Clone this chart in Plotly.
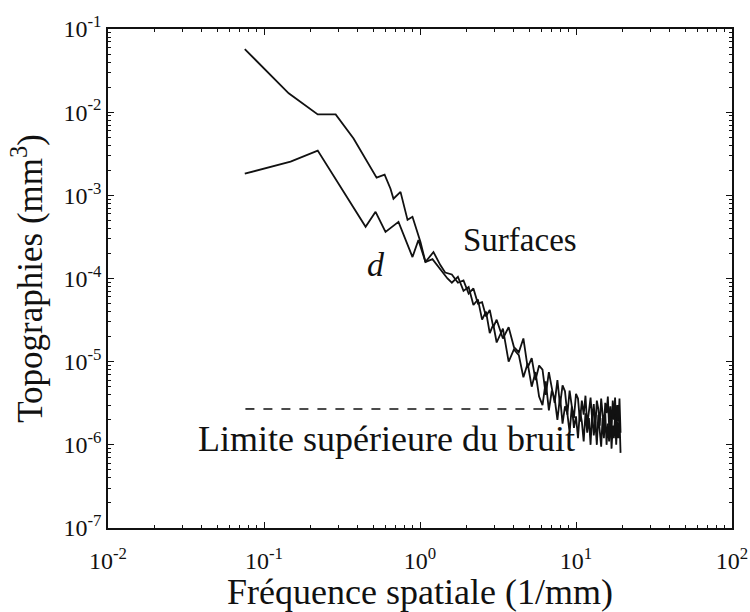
import plotly.graph_objects as go

# Curve "Surfaces" (upper at low frequency)
surf_x = [0.0753, 0.144, 0.221, 0.288, 0.375, 0.527, 0.593, 0.647, 0.676, 0.750, 0.832, 0.895, 1.007, 1.084, 1.22, 1.35, 1.45,
          1.6, 1.75, 1.9, 2.05, 2.2, 2.35, 2.5, 2.65, 2.8, 2.95, 3.1, 3.4, 3.7, 4.0, 4.3, 4.6, 4.9, 5.2, 5.5, 5.8,
          6.1, 6.4, 6.7, 7.0, 7.3, 7.6, 7.9, 8.2, 8.5, 8.8, 9.1, 9.4, 9.7, 10.0, 10.3, 10.6, 10.9, 11.2, 11.5, 11.8,
          12.1, 12.4, 12.7, 13.0, 13.3, 13.6, 13.9, 14.2, 14.5, 14.8, 15.1, 15.4, 15.7, 16.0, 16.3, 16.6, 16.9, 17.2,
          17.5, 17.8, 18.1, 18.4, 18.7, 19.0, 19.3]
surf_y = [0.0573, 0.01687, 0.0094, 0.0094, 0.00483, 0.00163, 0.00177, 0.00120, 0.00091, 0.00110, 0.000507, 0.000552,
          0.000275, 0.000158, 0.000208, 0.000145, 0.000118,
          1.12e-4, 8.9e-5, 9.5e-5, 6.6e-5, 7.6e-5, 5.0e-5, 5.2e-5, 3.5e-5, 4.2e-5, 2.6e-5,
          3.2e-5, 1.9e-5, 2.6e-5, 1.5e-5, 1.3e-5, 1.9e-5, 8.5e-6, 1.1e-5, 6.0e-6, 9.0e-6,
          8.0e-6, 4.0e-6, 7.5e-6, 4.8e-6, 3.2e-6, 6.0e-6, 3.0e-6, 5.2e-6, 4.4e-6, 2.3e-6,
          4.5e-6, 2.9e-6, 2.1e-6, 4.1e-6, 3.6e-6, 1.9e-6, 3.4e-6, 2.3e-6, 3.9e-6, 1.7e-6,
          2.6e-6, 3.7e-6, 2.0e-6, 3.1e-6, 1.6e-6, 3.4e-6, 2.7e-6, 1.7e-6, 3.6e-6, 2.2e-6,
          1.6e-6, 3.2e-6, 2.4e-6, 3.8e-6, 1.7e-6, 2.9e-6, 1.5e-6, 3.4e-6, 2.0e-6, 3.7e-6,
          1.6e-6, 3.0e-6, 1.9e-6, 3.6e-6, 1.4e-6]

# Curve "d" (lower at low frequency)
d_x = [0.0753, 0.148, 0.221, 0.319, 0.448, 0.519, 0.601, 0.728, 0.895, 0.977, 1.084, 1.202, 1.39, 1.5,
       1.6, 1.75, 1.9, 2.05, 2.2, 2.35, 2.5, 2.65, 2.8, 2.95, 3.1, 3.4, 3.7, 4.0, 4.3, 4.6, 4.9, 5.2, 5.5, 5.8,
       6.1, 6.4, 6.7, 7.0, 7.3, 7.6, 7.9, 8.2, 8.5, 8.8, 9.1, 9.4, 9.7, 10.0, 10.3, 10.6, 10.9, 11.2, 11.5, 11.8,
       12.1, 12.4, 12.7, 13.0, 13.3, 13.6, 13.9, 14.2, 14.5, 14.8, 15.1, 15.4, 15.7, 16.0, 16.3, 16.6, 16.9, 17.2,
       17.5, 17.8, 18.1, 18.4, 18.7, 19.0, 19.3]
d_y = [0.00182, 0.00255, 0.00345, 0.00117, 0.000418, 0.000634, 0.000363, 0.000480, 0.000181, 0.000291, 0.000158,
       0.000171, 0.000119, 0.000100,
       8.9e-5, 1.05e-4, 7.1e-5, 7.9e-5, 4.8e-5, 5.6e-5, 3.2e-5, 4.0e-5, 2.2e-5, 2.8e-5,
       1.7e-5, 2.5e-5, 1.0e-5, 1.4e-5, 1.2e-5, 6.5e-6, 9.5e-6, 5.0e-6, 7.5e-6, 3.8e-6,
       3.0e-6, 5.8e-6, 2.6e-6, 4.5e-6, 3.6e-6, 2.0e-6, 3.8e-6, 1.8e-6, 2.9e-6, 2.4e-6,
       1.4e-6, 2.9e-6, 1.6e-6, 2.2e-6, 1.2e-6, 2.6e-6, 1.9e-6, 1.1e-6, 2.4e-6, 1.4e-6,
       2.1e-6, 1.0e-6, 2.5e-6, 1.3e-6, 1.9e-6, 1.0e-6, 2.3e-6, 1.5e-6, 9.5e-7, 2.1e-6,
       1.2e-6, 2.4e-6, 1.0e-6, 1.8e-6, 1.1e-6, 2.2e-6, 9.0e-7, 1.7e-6, 1.2e-6, 2.3e-6,
       1.0e-6, 1.9e-6, 1.2e-6, 2.1e-6, 8.0e-7]

# Noise upper limit
noise_x = [0.076, 6.5]
noise_y = [2.7e-6, 2.7e-6]

x_tickvals = [1e-2, 1e-1, 1e0, 1e1, 1e2]
x_ticktext = ["10<sup>-2</sup>", "10<sup>-1</sup>", "10<sup>0</sup>", "10<sup>1</sup>", "10<sup>2</sup>"]
y_tickvals = [1e-7, 1e-6, 1e-5, 1e-4, 1e-3, 1e-2, 1e-1]
y_ticktext = ["10<sup>-7</sup>", "10<sup>-6</sup>", "10<sup>-5</sup>", "10<sup>-4</sup>",
              "10<sup>-3</sup>", "10<sup>-2</sup>", "10<sup>-1</sup>"]

x_minor = [m * 10.0 ** e for e in range(-2, 2) for m in range(2, 10)]
y_minor = [m * 10.0 ** e for e in range(-7, -1) for m in range(2, 10)]

serif = "Liberation Serif"
ink = "#111111"


def axis_style(minor_vals):
    return dict(
        showline=True, linecolor=ink, linewidth=1.6, mirror="ticks",
        ticks="inside", ticklen=6, tickwidth=1.4, tickcolor=ink,
        showgrid=False, zeroline=False, automargin=False,
        tickfont=dict(family=serif, size=24, color=ink),
        minor=dict(tickvals=minor_vals, ticks="inside", ticklen=3, tickwidth=1.2,
                   tickcolor=ink, showgrid=False),
    )


fig = go.Figure()
fig.add_trace(go.Scatter(x=surf_x, y=surf_y, mode="lines", line=dict(color=ink, width=1.8),
                         showlegend=False))
fig.add_trace(go.Scatter(x=d_x, y=d_y, mode="lines", line=dict(color=ink, width=1.8),
                         showlegend=False))
fig.add_trace(go.Scatter(x=noise_x, y=noise_y, mode="lines",
                         line=dict(color=ink, width=1.6, dash="dash"), showlegend=False))

fig.update_layout(
    width=750, height=612,
    paper_bgcolor="white", plot_bgcolor="white",
    margin=dict(l=108, r=18, t=29, b=84),
    xaxis=dict(type="log", range=[-2, 2], tickvals=x_tickvals, ticktext=x_ticktext,
               ticklabelstandoff=10,
               title=dict(text="Fréquence spatiale (1/mm)", font=dict(family=serif, size=36, color=ink),
                          standoff=6),
               **axis_style(x_minor)),
    yaxis=dict(type="log", range=[-7, -1], tickvals=y_tickvals, ticktext=y_ticktext,
               title=dict(text="Topographies (mm<sup>3</sup>)", font=dict(family=serif, size=35, color=ink),
                          standoff=10),
               **axis_style(y_minor)),
    annotations=[
        dict(text="Surfaces", xref="paper", yref="paper", x=0.66, y=0.577, showarrow=False,
             font=dict(family=serif, size=33, color=ink)),
        dict(text="<i>d</i>", xref="paper", yref="paper", x=0.430, y=0.528, showarrow=False,
             font=dict(family=serif, size=34, color=ink)),
        dict(text="Limite supérieure du bruit", xref="paper", yref="paper", x=0.447, y=0.135, showarrow=False,
             font=dict(family=serif, size=36, color=ink)),
    ],
)

fig.write_html("out.html", config={"displayModeBar": False},
               post_script="document.body.style.margin='0px';")
